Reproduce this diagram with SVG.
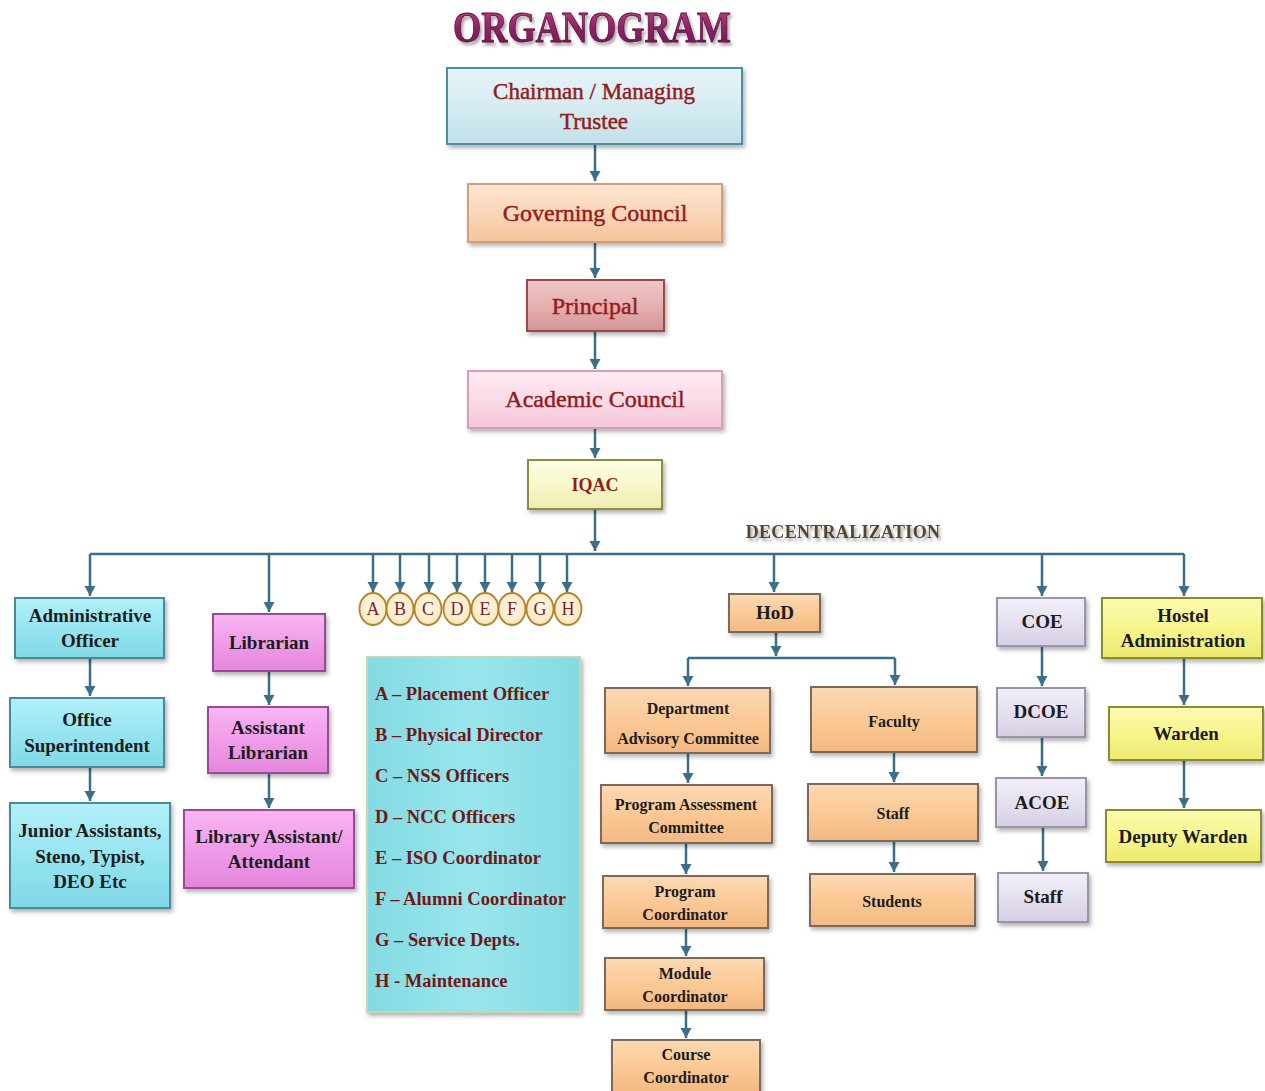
<svg xmlns="http://www.w3.org/2000/svg" width="1265" height="1091" viewBox="0 0 1265 1091">
<defs>
  <filter id="sh" x="-10%" y="-10%" width="125%" height="130%">
    <feDropShadow dx="2" dy="3" stdDeviation="2" flood-color="#000" flood-opacity="0.3"/>
  </filter>
  <filter id="tsh" x="-5%" y="-20%" width="115%" height="160%">
    <feDropShadow dx="2" dy="3" stdDeviation="1.5" flood-color="#000" flood-opacity="0.35"/>
  </filter>
  <marker id="ah" markerUnits="userSpaceOnUse" markerWidth="12" markerHeight="12" refX="10" refY="5.5" orient="auto">
    <path d="M0,0 L10,5.5 L0,11 z" fill="#3b6f88"/>
  </marker>
  <linearGradient id="gTitle" x1="0" y1="0" x2="0" y2="1">
    <stop offset="0" stop-color="#c0508a"/>
    <stop offset="0.5" stop-color="#8e2466"/>
    <stop offset="1" stop-color="#6a1450"/>
  </linearGradient>
  <linearGradient id="gBlue" x1="0" y1="0" x2="0" y2="1">
    <stop offset="0" stop-color="#e6f4f8"/><stop offset="0.5" stop-color="#d6ecf2"/><stop offset="1" stop-color="#c2e0ea"/>
  </linearGradient>
  <linearGradient id="gPeach" x1="0" y1="0" x2="0" y2="1">
    <stop offset="0" stop-color="#fde6d2"/><stop offset="0.5" stop-color="#fbd6b8"/><stop offset="1" stop-color="#f5c49c"/>
  </linearGradient>
  <linearGradient id="gPrin" x1="0" y1="0" x2="0" y2="1">
    <stop offset="0" stop-color="#f0c8c8"/><stop offset="0.5" stop-color="#e6b0b0"/><stop offset="1" stop-color="#d49494"/>
  </linearGradient>
  <linearGradient id="gPink" x1="0" y1="0" x2="0" y2="1">
    <stop offset="0" stop-color="#feeaf2"/><stop offset="0.5" stop-color="#fbdbe8"/><stop offset="1" stop-color="#f4c6da"/>
  </linearGradient>
  <linearGradient id="gIqac" x1="0" y1="0" x2="0" y2="1">
    <stop offset="0" stop-color="#fdfde4"/><stop offset="0.5" stop-color="#f8f8cc"/><stop offset="1" stop-color="#ededb0"/>
  </linearGradient>
  <linearGradient id="gCyan" x1="0" y1="0" x2="0" y2="1">
    <stop offset="0" stop-color="#b2f0f8"/><stop offset="0.5" stop-color="#97e5f1"/><stop offset="1" stop-color="#80d8e6"/>
  </linearGradient>
  <linearGradient id="gMag" x1="0" y1="0" x2="0" y2="1">
    <stop offset="0" stop-color="#f8b6f2"/><stop offset="0.5" stop-color="#f09ce9"/><stop offset="1" stop-color="#e486dc"/>
  </linearGradient>
  <linearGradient id="gLeg" x1="0" y1="0" x2="1" y2="0">
    <stop offset="0" stop-color="#84dae2"/><stop offset="0.5" stop-color="#98e6ec"/><stop offset="1" stop-color="#84dae2"/>
  </linearGradient>
  <linearGradient id="gOr" x1="0" y1="0" x2="0" y2="1">
    <stop offset="0" stop-color="#fcd9b4"/><stop offset="0.5" stop-color="#fbc996"/><stop offset="1" stop-color="#f3b882"/>
  </linearGradient>
  <linearGradient id="gLav" x1="0" y1="0" x2="0" y2="1">
    <stop offset="0" stop-color="#f2eff8"/><stop offset="0.5" stop-color="#e5e0f0"/><stop offset="1" stop-color="#d6cfe4"/>
  </linearGradient>
  <linearGradient id="gYel" x1="0" y1="0" x2="0" y2="1">
    <stop offset="0" stop-color="#fbfab0"/><stop offset="0.5" stop-color="#f7f58c"/><stop offset="1" stop-color="#ecea70"/>
  </linearGradient>
  <radialGradient id="gCirc" cx="0.5" cy="0.45" r="0.6">
    <stop offset="0" stop-color="#fffaf0"/><stop offset="0.7" stop-color="#fbecc8"/><stop offset="1" stop-color="#f0d49a"/>
  </radialGradient>
</defs>
<style>
  .t { font-family: "Liberation Serif", "DejaVu Serif", serif; text-anchor: middle; }
  .top { fill: #931c1c; stroke: #931c1c; stroke-width: 0.45; font-size: 23px; }
  .big { font-size: 24px; }
  .iq { font-size: 18px; font-weight: bold; stroke-width: 0; }
  .low { fill: #1c1c1c; font-weight: bold; font-size: 19px; }
  .hod { fill: #1c1c1c; font-weight: bold; font-size: 16px; }
  .leg { font-family: "Liberation Serif", "DejaVu Serif", serif; fill: #701818; font-weight: bold; font-size: 18.5px; }
  .box { filter: url(#sh); stroke-width: 2; }
  .conn { fill: none; stroke: #3b6f88; stroke-width: 2.5; }
  .arr { fill: none; stroke: #3b6f88; stroke-width: 2.5; marker-end: url(#ah); }
  .circ { fill: url(#gCirc); stroke: #b3822e; stroke-width: 1.8; }
  .cl { font-family: "Liberation Serif", "DejaVu Serif", serif; fill: #8a1c1c; font-size: 18px; text-anchor: middle; }
</style>

<text x="592" y="42" class="t" font-weight="bold" font-size="45" fill="url(#gTitle)" stroke="#5a0c3c" stroke-width="0.8" textLength="278" lengthAdjust="spacingAndGlyphs" filter="url(#tsh)">ORGANOGRAM</text>

<g id="connectors">
  <path class="arr" d="M595,144 V181"/>
  <path class="arr" d="M595,242 V278"/>
  <path class="arr" d="M595,331 V369"/>
  <path class="arr" d="M595,428 V458"/>
  <path class="arr" d="M595,509 V551"/>
  <path class="conn" d="M90,554 H1184"/>
  <path class="arr" d="M90,554 V596"/>
  <path class="arr" d="M269,554 V612"/>
  <path class="arr" d="M373,554 V592"/>
  <path class="arr" d="M400,554 V592"/>
  <path class="arr" d="M429,554 V592"/>
  <path class="arr" d="M457,554 V592"/>
  <path class="arr" d="M485,554 V592"/>
  <path class="arr" d="M512,554 V592"/>
  <path class="arr" d="M540,554 V592"/>
  <path class="arr" d="M567,554 V592"/>
  <path class="arr" d="M774,554 V592"/>
  <path class="arr" d="M1042,554 V596"/>
  <path class="arr" d="M1184,554 V596"/>
  <path class="arr" d="M90,658 V696"/>
  <path class="arr" d="M90,767 V801"/>
  <path class="arr" d="M269,671 V705"/>
  <path class="arr" d="M269,773 V808"/>
  <path class="arr" d="M776,632 V656"/>
  <path class="conn" d="M688,658 H895"/>
  <path class="arr" d="M688,658 V686"/>
  <path class="arr" d="M895,658 V685"/>
  <path class="arr" d="M688,753 V783"/>
  <path class="arr" d="M686,843 V874"/>
  <path class="arr" d="M686,928 V956"/>
  <path class="arr" d="M686,1010 V1038"/>
  <path class="arr" d="M894,752 V782"/>
  <path class="arr" d="M894,841 V872"/>
  <path class="arr" d="M1042,646 V686"/>
  <path class="arr" d="M1042,737 V776"/>
  <path class="arr" d="M1043,827 V871"/>
  <path class="arr" d="M1184,658 V705"/>
  <path class="arr" d="M1184,760 V808"/>
</g>

<g id="chairman">
  <rect class="box" x="447" y="68" width="295" height="76" fill="url(#gBlue)" stroke="#4f8ea6"/>
  <text class="t top" x="594" y="99">Chairman / Managing</text>
  <text class="t top" x="594" y="129">Trustee</text>
</g>
<g id="governing-council">
  <rect class="box" x="468" y="184" width="254" height="58" fill="url(#gPeach)" stroke="#d2a078"/>
  <text class="t top big" x="595" y="221">Governing Council</text>
</g>
<g id="principal">
  <rect class="box" x="527" y="280" width="137" height="51" fill="url(#gPrin)" stroke="#9a4a4a"/>
  <text class="t top big" x="595" y="314">Principal</text>
</g>
<g id="academic-council">
  <rect class="box" x="468" y="371" width="254" height="57" fill="url(#gPink)" stroke="#d4a0b8"/>
  <text class="t top big" x="595" y="407">Academic Council</text>
</g>
<g id="iqac">
  <rect class="box" x="528" y="460" width="134" height="49" fill="url(#gIqac)" stroke="#8c8c44"/>
  <text class="t top iq" x="595" y="491">IQAC</text>
</g>

<text id="decentralization" x="843" y="538" class="t" font-weight="bold" font-size="18" fill="#54452a" letter-spacing="0.3" filter="url(#tsh)">DECENTRALIZATION</text>

<g id="administrative-officer">
  <rect class="box" x="15" y="598" width="149" height="60" fill="url(#gCyan)" stroke="#4a8a9a"/>
  <text class="t low" x="90" y="622">Administrative</text>
  <text class="t low" x="90" y="647">Officer</text>
</g>
<g id="office-superintendent">
  <rect class="box" x="10" y="698" width="154" height="69" fill="url(#gCyan)" stroke="#4a8a9a"/>
  <text class="t low" x="87" y="726">Office</text>
  <text class="t low" x="87" y="752">Superintendent</text>
</g>
<g id="junior-assistants">
  <rect class="box" x="10" y="803" width="160" height="105" fill="url(#gCyan)" stroke="#4a8a9a"/>
  <text class="t low" x="90" y="837">Junior Assistants,</text>
  <text class="t low" x="90" y="863">Steno, Typist,</text>
  <text class="t low" x="90" y="888">DEO Etc</text>
</g>

<g id="librarian">
  <rect class="box" x="213" y="614" width="112" height="57" fill="url(#gMag)" stroke="#9a4a94"/>
  <text class="t low" x="269" y="649">Librarian</text>
</g>
<g id="assistant-librarian">
  <rect class="box" x="208" y="707" width="120" height="66" fill="url(#gMag)" stroke="#9a4a94"/>
  <text class="t low" x="268" y="734">Assistant</text>
  <text class="t low" x="268" y="759">Librarian</text>
</g>
<g id="library-assistant">
  <rect class="box" x="184" y="810" width="170" height="78" fill="url(#gMag)" stroke="#9a4a94"/>
  <text class="t low" x="269" y="843">Library Assistant/</text>
  <text class="t low" x="269" y="868">Attendant</text>
</g>

<g id="circle-a"><ellipse class="circ" cx="373" cy="609" rx="13.5" ry="16"/><text class="cl" x="373" y="615">A</text></g>
<g id="circle-b"><ellipse class="circ" cx="400" cy="609" rx="13.5" ry="16"/><text class="cl" x="400" y="615">B</text></g>
<g id="circle-c"><ellipse class="circ" cx="428" cy="609" rx="13.5" ry="16"/><text class="cl" x="428" y="615">C</text></g>
<g id="circle-d"><ellipse class="circ" cx="457" cy="609" rx="13.5" ry="16"/><text class="cl" x="457" y="615">D</text></g>
<g id="circle-e"><ellipse class="circ" cx="485" cy="609" rx="13.5" ry="16"/><text class="cl" x="485" y="615">E</text></g>
<g id="circle-f"><ellipse class="circ" cx="512" cy="609" rx="13.5" ry="16"/><text class="cl" x="512" y="615">F</text></g>
<g id="circle-g"><ellipse class="circ" cx="540" cy="609" rx="13.5" ry="16"/><text class="cl" x="540" y="615">G</text></g>
<g id="circle-h"><ellipse class="circ" cx="568" cy="609" rx="13.5" ry="16"/><text class="cl" x="568" y="615">H</text></g>

<g id="legend">
  <rect class="box" x="367" y="657" width="213" height="355" fill="url(#gLeg)" stroke="#c9d6b4"/>
  <text class="leg" x="375" y="700">A – Placement Officer</text>
  <text class="leg" x="375" y="741">B – Physical Director</text>
  <text class="leg" x="375" y="782">C – NSS Officers</text>
  <text class="leg" x="375" y="823">D – NCC Officers</text>
  <text class="leg" x="375" y="864">E – ISO Coordinator</text>
  <text class="leg" x="375" y="905">F – Alumni Coordinator</text>
  <text class="leg" x="375" y="946">G – Service Depts.</text>
  <text class="leg" x="375" y="987">H - Maintenance</text>
</g>

<g id="hod">
  <rect class="box" x="729" y="594" width="91" height="38" fill="url(#gOr)" stroke="#7a6a5a"/>
  <text class="t low" x="775" y="619">HoD</text>
</g>
<g id="department-advisory-committee">
  <rect class="box" x="605" y="688" width="165" height="65" fill="url(#gOr)" stroke="#7a6a5a"/>
  <text class="t hod" x="688" y="714">Department</text>
  <text class="t hod" x="688" y="744">Advisory Committee</text>
</g>
<g id="program-assessment-committee">
  <rect class="box" x="601" y="785" width="171" height="58" fill="url(#gOr)" stroke="#7a6a5a"/>
  <text class="t hod" x="686" y="810">Program Assessment</text>
  <text class="t hod" x="686" y="833">Committee</text>
</g>
<g id="program-coordinator">
  <rect class="box" x="603" y="876" width="165" height="52" fill="url(#gOr)" stroke="#7a6a5a"/>
  <text class="t hod" x="685" y="897">Program</text>
  <text class="t hod" x="685" y="920">Coordinator</text>
</g>
<g id="module-coordinator">
  <rect class="box" x="605" y="958" width="159" height="52" fill="url(#gOr)" stroke="#7a6a5a"/>
  <text class="t hod" x="685" y="979">Module</text>
  <text class="t hod" x="685" y="1002">Coordinator</text>
</g>
<g id="course-coordinator">
  <rect class="box" x="612" y="1040" width="148" height="52" fill="url(#gOr)" stroke="#7a6a5a"/>
  <text class="t hod" x="686" y="1060">Course</text>
  <text class="t hod" x="686" y="1083">Coordinator</text>
</g>
<g id="faculty">
  <rect class="box" x="811" y="687" width="166" height="65" fill="url(#gOr)" stroke="#7a6a5a"/>
  <text class="t hod" x="894" y="727">Faculty</text>
</g>
<g id="staff-faculty">
  <rect class="box" x="808" y="784" width="170" height="57" fill="url(#gOr)" stroke="#7a6a5a"/>
  <text class="t hod" x="893" y="819">Staff</text>
</g>
<g id="students">
  <rect class="box" x="810" y="874" width="165" height="52" fill="url(#gOr)" stroke="#7a6a5a"/>
  <text class="t hod" x="892" y="907">Students</text>
</g>

<g id="coe">
  <rect class="box" x="997" y="598" width="88" height="48" fill="url(#gLav)" stroke="#9a94aa"/>
  <text class="t low" x="1042" y="628">COE</text>
</g>
<g id="dcoe">
  <rect class="box" x="997" y="688" width="88" height="49" fill="url(#gLav)" stroke="#9a94aa"/>
  <text class="t low" x="1041" y="718">DCOE</text>
</g>
<g id="acoe">
  <rect class="box" x="996" y="778" width="90" height="49" fill="url(#gLav)" stroke="#9a94aa"/>
  <text class="t low" x="1042" y="809">ACOE</text>
</g>
<g id="staff-coe">
  <rect class="box" x="998" y="873" width="90" height="49" fill="url(#gLav)" stroke="#9a94aa"/>
  <text class="t low" x="1043" y="903">Staff</text>
</g>

<g id="hostel-administration">
  <rect class="box" x="1102" y="598" width="160" height="60" fill="url(#gYel)" stroke="#8a8a30"/>
  <text class="t low" x="1183" y="622">Hostel</text>
  <text class="t low" x="1183" y="647">Administration</text>
</g>
<g id="warden">
  <rect class="box" x="1109" y="707" width="154" height="53" fill="url(#gYel)" stroke="#8a8a30"/>
  <text class="t low" x="1186" y="740">Warden</text>
</g>
<g id="deputy-warden">
  <rect class="box" x="1106" y="810" width="155" height="52" fill="url(#gYel)" stroke="#8a8a30"/>
  <text class="t low" x="1183" y="843">Deputy Warden</text>
</g>
</svg>
